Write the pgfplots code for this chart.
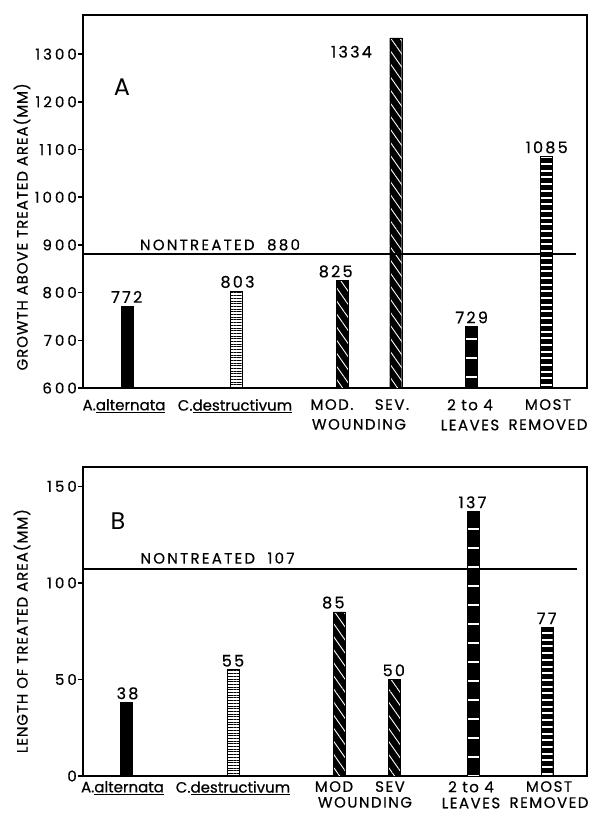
\documentclass[border=0pt]{standalone}
\usepackage{fontspec}
\setmainfont{Poppins}
\newfontfamily\capfont{Poppins}[LetterSpace=10,FakeBold=0.5]
\newfontfamily\numfont{Poppins}[LetterSpace=14,FakeBold=0.5]
\newfontfamily\ytfont{Poppins}[LetterSpace=20,FakeBold=0.5]
\newfontfamily\lcfont{Poppins}[FakeBold=0.5]
\newfontfamily\ntfont{Poppins}[LetterSpace=15,FakeBold=0.5]
\usepackage{pgfplots}
\pgfplotsset{compat=1.18}
\usetikzlibrary{patterns.meta}

\pgfplotsset{
  panel/.style={
    scale only axis, width=504pt, xmin=0, xmax=504,
    clip mode=individual,
    axis line style={line width=2.6pt},
    ytick pos=left, tick align=outside, major tick length=5pt,
    major tick style={line width=1.6pt, black},
    xtick style={draw=none},
    /pgf/number format/assume math mode=true,
    /pgf/number format/1000 sep={},
    yticklabel style={font=\ytfont\fontsize{15}{18}\selectfont, inner sep=1pt},
    xticklabel style={font=\capfont\fontsize{15}{20}\selectfont, align=center, anchor=north, inner sep=0pt, yshift=-6pt},
    ylabel style={font=\capfont\fontsize{15}{18}\selectfont\addfontfeatures{LetterSpace=6}, anchor=center},
  },
  solidbar/.style={ybar, bar shift=0pt, bar width=12pt, fill=black, draw=black},
  hlinebar/.style={ybar, bar shift=0pt, bar width=12pt, draw=black, line width=0.7pt,
     pattern={Lines[distance=2.7pt,line width=0.9pt]}, pattern color=black},
  diagbar/.style={ybar, bar shift=0pt, bar width=12pt, fill=black, draw=black,
     postaction={pattern={Lines[angle=-55,distance=7.5pt,line width=0.9pt]}, pattern color=white}},
  leafbar/.style={ybar, bar shift=0pt, bar width=12pt, fill=black, draw=black,
     postaction={pattern={Lines[distance=19pt,line width=1.5pt]}, pattern color=white}},
  mostbar/.style={ybar, bar shift=0pt, bar width=12pt, fill=black, draw=black,
     postaction={pattern={Lines[distance=6.7pt,line width=2pt]}, pattern color=white}},
}
\tikzset{vlab/.style={anchor=south, inner sep=0pt, yshift=3pt, font=\numfont\fontsize{16}{18}\selectfont}}

\begin{document}
\begin{tikzpicture}
\useasboundingbox (0,0) rectangle (589pt,-814pt);

% ---------- Panel A ----------
\begin{axis}[panel, at={(83pt,-15pt)}, anchor=north west, height=373pt,
  ymin=600, ymax=1382, ytick={600,700,...,1300},
  ylabel={GROWTH ABOVE TREATED AREA(MM)},
  ylabel style={at={(axis description cs:-0.121,0.432)}},
  xtick={41,152,249,276,309,387,465},
  xticklabels={{\lcfont A.\underline{alternata}}, {\lcfont C.\underline{destructivum}}, MOD., \phantom{M}\\WOUNDING, SEV., 2 to 4\\LEAVES, MOST\\REMOVED},
]
\addplot[solidbar] coordinates {(43.7,772)};
\addplot[hlinebar] coordinates {(153,803)};
\addplot[diagbar] coordinates {(259,825) (312.7,1334)};
\addplot[leafbar] coordinates {(388,729)};
\addplot[mostbar] coordinates {(463,1085)};
\draw[line width=2pt] (axis cs:0,880) -- (axis cs:493,880);
\node[anchor=base, inner sep=0pt, font=\ntfont\fontsize{15}{18}\selectfont] at (axis cs:137,889) {NONTREATED\ \ 880};
\node[font=\fontsize{24}{28}\selectfont] at (axis cs:39,1231) {A};
\node[vlab] at (axis cs:43.7,772) {772};
\node[vlab] at (axis cs:154.5,803) {803};
\node[vlab] at (axis cs:252.7,825) {825};
\node[font=\numfont\fontsize{16}{18}\selectfont] at (axis cs:268.5,1305) {1334};
\node[vlab] at (axis cs:388.7,729) {729};
\node[vlab] at (axis cs:463.7,1085) {1085};
\end{axis}

% ---------- Panel B ----------
\begin{axis}[panel, at={(83pt,-467pt)}, anchor=north west, height=309pt,
  ymin=0, ymax=160, ytick={0,50,100,150},
  ylabel={LENGTH OF TREATED AREA(MM)},
  ylabel style={at={(axis description cs:-0.121,0.469)}},
  xticklabel style={yshift=6pt, font=\capfont\fontsize{15}{16}\selectfont},
  xtick={39.5,150,251,282,307,388,466},
  xticklabels={{\lcfont A.\underline{alternata}}, {\lcfont C.\underline{destructivum}}, MOD, \phantom{M}\\WOUNDING, SEV, 2 to 4\\LEAVES, MOST\\REMOVED},
]
\addplot[solidbar] coordinates {(43.5,38)};
\addplot[hlinebar] coordinates {(150.3,55)};
\addplot[diagbar] coordinates {(256,85) (311,50)};
\addplot[leafbar] coordinates {(390,137)};
\addplot[mostbar] coordinates {(463.7,77)};
\draw[line width=2pt] (axis cs:0,107) -- (axis cs:494,107);
\node[anchor=base, inner sep=0pt, font=\ntfont\fontsize{15}{18}\selectfont] at (axis cs:134.5,110) {NONTREATED\ \ 107};
\node[font=\fontsize{24}{28}\selectfont] at (axis cs:35,132) {B};
\node[vlab] at (axis cs:44.5,38) {38};
\node[vlab] at (axis cs:150,55) {55};
\node[vlab] at (axis cs:250.3,85) {85};
\node[vlab] at (axis cs:310.8,50) {50};
\node[vlab] at (axis cs:389.5,137) {137};
\node[vlab] at (axis cs:463.7,77) {77};
\end{axis}
\end{tikzpicture}
\end{document}
